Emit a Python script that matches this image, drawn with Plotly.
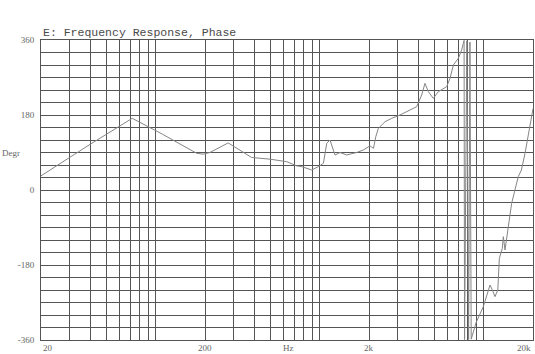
import math
import plotly.graph_objects as go

# Phase response data (frequency in Hz, phase in degrees)
freq = [20, 40, 72, 110, 178, 195, 214, 277, 385, 498, 629, 724, 778, 895, 982,
        1054, 1105, 1157, 1241, 1331, 1462, 1681, 1845, 1937, 2029, 2130, 2200,
        2281, 2506, 2749, 3090, 3557, 3909, 4190, 4389, 4600, 4935, 5295, 5954,
        6238, 6537, 7011, 7347, 7518, 7600, 7650, 7900, 8100, 8250, 8400, 8700,
        9000, 9954, 10940, 11300, 11730, 12200, 12470, 13000, 13190, 13500,
        14130, 14820, 16260, 17000, 17880, 20000]
phase = [34, 110, 172, 134, 88, 86, 90, 113, 78, 74, 68, 58, 56, 48, 56,
         64, 112, 120, 84, 90, 84, 90, 96, 102, 106, 100, 128,
         148, 164, 172, 180, 192, 200, 228, 256, 236, 220, 236, 248,
         268, 300, 316, 336, 352, 359, -359, 358, -359, 355, -358, -335,
         -318, -280, -228, -240, -256, -240, -164, -140, -112, -144,
         -88, -32, 32, 48, 88, 195]

# Grid / tick definitions
x_grid = [20, 30, 40, 50, 60, 70, 80, 90, 100,
          200, 300, 400, 500, 600, 700, 800, 900, 1000,
          2000, 3000, 4000, 5000, 6000, 7000, 8000, 9000, 10000, 20000]
x_label_vals = [20, 200, 2000, 20000]
x_label_text = ["20", "200", "2k", "20k"]
y_grid = list(range(-360, 361, 30))
y_labels = {360: "360", 180: "180", 0: "0", -180: "-180", -360: "-360"}

title_text = "E: Frequency Response, Phase"
x_title = "Hz"
y_title = "Degr"

grid_color = "#555555"
label_font = dict(family="Liberation Serif", size=9, color="#666666")

x_lo, x_hi = math.log10(20), math.log10(20000)

fig = go.Figure()
fig.add_trace(go.Scatter(x=freq, y=phase, mode="lines",
                         line=dict(color="#858585", width=1),
                         showlegend=False, hoverinfo="skip"))

anchors = ["left", "center", "center", "right"]
annotations = [
    dict(text=t, xref="x", yref="paper",
         x=min(max(math.log10(v), x_lo + 1e-9), x_hi - 1e-9), y=0,
         xanchor=a, yanchor="top", showarrow=False, yshift=-1, font=label_font)
    for v, t, a in zip(x_label_vals, x_label_text, anchors)
]
annotations += [
    dict(text=title_text, xref="paper", yref="paper", x=0.0, y=1.0,
         xanchor="left", yanchor="bottom", showarrow=False, yshift=-1,
         font=dict(family="Liberation Mono", size=11.5, color="#4a4a4a")),
    dict(text=x_title, xref="x", yref="paper", x=2.81, y=0,
         xanchor="center", yanchor="top", showarrow=False, yshift=-1,
         font=label_font),
    dict(text=y_title, xref="paper", yref="y", x=0, y=88,
         xanchor="left", yanchor="middle", showarrow=False, xshift=-41,
         font=label_font),
]

fig.update_layout(
    width=535, height=354,
    margin=dict(l=41, r=2, t=40, b=14),
    paper_bgcolor="white", plot_bgcolor="white",
    xaxis=dict(type="log", range=[x_lo, x_hi],
               tickvals=x_grid, ticktext=["" for _ in x_grid],
               showgrid=True, gridcolor=grid_color, gridwidth=1,
               showline=True, linecolor=grid_color, linewidth=1, mirror=True,
               ticks="", zeroline=False),
    yaxis=dict(range=[-360, 360],
               tickvals=y_grid,
               ticktext=[y_labels.get(v, "") for v in y_grid],
               showgrid=True, gridcolor=grid_color, gridwidth=1,
               showline=True, linecolor=grid_color, linewidth=1, mirror=True,
               ticks="", tickfont=label_font, zeroline=False, ticklabelstandoff=4),
    annotations=annotations,
)

# Remove the default page margin so the 535x354 figure fills the window exactly.
fig.write_html("out.html",
               config={"displayModeBar": False},
               post_script="document.body.style.margin='0';"
                           "document.body.style.overflow='hidden';")
